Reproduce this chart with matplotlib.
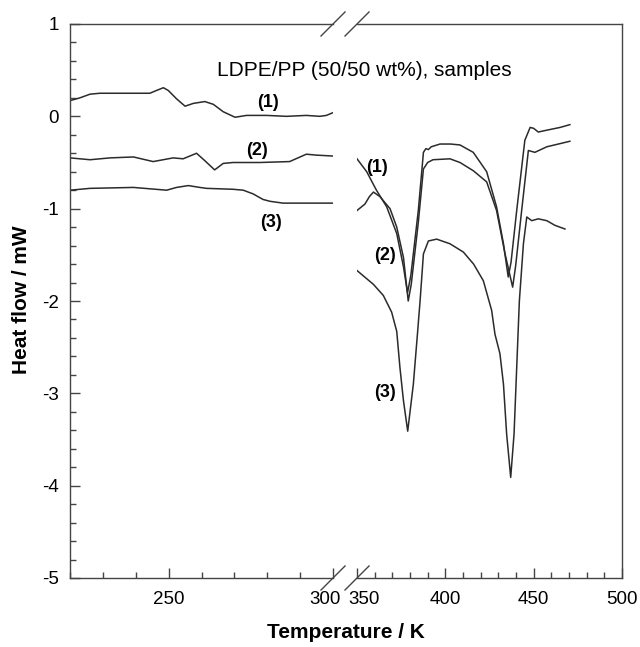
import matplotlib
matplotlib.use("Agg")
import matplotlib.pyplot as plt
from matplotlib.ticker import MultipleLocator
from matplotlib.transforms import ScaledTranslation
from matplotlib.lines import Line2D

plt.rcParams['font.family'] = ['Liberation Sans', 'DejaVu Sans']
plt.rcParams['axes.unicode_minus'] = False

# ---- data: low-temperature segment (220-300 K) ----
t1_low = [220, 223, 226.1, 229.1, 244.3, 246.3, 248.4, 249.9, 252.4, 255, 257.5, 261, 263.6,
          266.6, 270.2, 273.7, 279.8, 285.9, 291.9, 296, 298, 300]
h1_low = [0.17, 0.20, 0.24, 0.25, 0.25, 0.28, 0.31, 0.28, 0.19, 0.11, 0.14, 0.16, 0.13,
          0.05, -0.01, 0.01, 0.01, 0.0, 0.01, 0.0, 0.01, 0.04]
t2_low = [220, 226.1, 232.2, 239.3, 245.3, 251.4, 254.4, 258.5, 261, 264, 266.6, 269.6,
          277.7, 286.8, 291.9, 294.9, 300]
h2_low = [-0.45, -0.47, -0.45, -0.44, -0.49, -0.45, -0.46, -0.40, -0.48, -0.58, -0.51, -0.50,
          -0.50, -0.49, -0.41, -0.42, -0.43]
t3_low = [220, 226.1, 239.3, 249.4, 252.4, 256, 259.5, 261.5, 269.6, 272.7, 275.7, 278.7,
          280.8, 284.8, 300]
h3_low = [-0.80, -0.78, -0.77, -0.80, -0.77, -0.75, -0.77, -0.78, -0.79, -0.80, -0.84, -0.90,
          -0.92, -0.94, -0.94]

# ---- data: high-temperature segment (350-500 K) ----
t1_high = [350, 355.5, 361, 366.8, 372.5, 376.3, 378.6, 380.5, 384.7, 387.6, 389, 390.4, 392,
           397, 403, 408.3, 415.8, 423.4, 429, 432.9, 435.6, 437.2, 440.4, 445, 448, 450,
           452.6, 457.4, 465, 470.5]
h1_high = [-0.46, -0.60, -0.80, -0.98, -1.27, -1.63, -1.91, -1.72, -1.02, -0.39, -0.35, -0.36,
           -0.33, -0.30, -0.30, -0.31, -0.39, -0.60, -0.98, -1.38, -1.74, -1.58, -1.02, -0.26,
           -0.12, -0.13, -0.17, -0.15, -0.12, -0.09]
t2_high = [350, 354.5, 357, 359.3, 363, 368.7, 372.5, 376.3, 379, 380.7, 384.7, 387.6, 390,
           393, 402.6, 408.3, 415.9, 423.4, 429, 433.8, 438.1, 439.8, 443.2, 447, 450.7,
           457.4, 470.5]
h2_high = [-1.02, -0.95, -0.87, -0.82, -0.87, -1.00, -1.20, -1.53, -2.00, -1.82, -1.15, -0.57,
           -0.50, -0.47, -0.46, -0.50, -0.59, -0.71, -1.02, -1.49, -1.85, -1.62, -1.02, -0.37,
           -0.39, -0.33, -0.27]
t3_high = [350, 359.3, 364.9, 369.6, 372.5, 374.3, 376.3, 378.7, 381.9, 384.2, 385.7, 387.6,
           390.4, 395.1, 402.6, 410.2, 416, 421.5, 426.2, 428.1, 430.9, 432.9, 434.7, 437,
           438.9, 440.4, 441.9, 444.2, 446.1, 448.9, 452.6, 457.4, 462, 467.7]
h3_high = [-1.67, -1.82, -1.94, -2.12, -2.33, -2.72, -3.08, -3.41, -2.90, -2.36, -2.00, -1.49,
           -1.35, -1.33, -1.38, -1.47, -1.60, -1.78, -2.10, -2.36, -2.57, -2.90, -3.44, -3.91,
           -3.44, -2.72, -2.00, -1.38, -1.09, -1.13, -1.11, -1.13, -1.18, -1.22]

low_ticks = [250, 300]
high_ticks = [350, 400, 450, 500]
y_ticks = [1, 0, -1, -2, -3, -4, -5]
sample_labels = ['(1)', '(2)', '(3)']
low_label_pos = [(280.2, 0.15), (276.8, -0.37), (281, -1.15)]
high_label_pos = [(361.1, -0.55), (365.8, -1.51), (366.1, -2.99)]

W, H = 640, 647
fig = plt.figure(figsize=(W / 100, H / 100), dpi=100)

ybot, ytop = 578, 24
xl0, xl1, xr0, xr1 = 70, 333, 357, 622
ax1 = fig.add_axes([xl0 / W, 1 - ybot / H, (xl1 - xl0) / W, (ybot - ytop) / H])
ax2 = fig.add_axes([xr0 / W, 1 - ybot / H, (xr1 - xr0) / W, (ybot - ytop) / H])

line_c = '#2b2b2b'
spine_c = '#444444'
lw = 1.1

for t, h in [(t1_low, h1_low), (t2_low, h2_low), (t3_low, h3_low)]:
    ax1.plot(t, h, color=line_c, lw=lw)
for t, h in [(t1_high, h1_high), (t2_high, h2_high), (t3_high, h3_high)]:
    ax2.plot(t, h, color=line_c, lw=lw)

ax1.set_xlim(220, 300)
ax2.set_xlim(350, 500)
for ax in (ax1, ax2):
    ax.set_ylim(-5, 1)
    for s in ax.spines.values():
        s.set_color(spine_c)
        s.set_linewidth(1.0)
    ax.tick_params(which='both', direction='in', colors=spine_c, labelcolor='black',
                   labelsize=13.5, width=1.0)
    ax.tick_params(which='major', length=7, pad=9)
    ax.tick_params(which='minor', length=4)
    ax.xaxis.set_minor_locator(MultipleLocator(10))

ax1.spines['right'].set_visible(False)
ax2.spines['left'].set_visible(False)
ax1.set_xticks(low_ticks)
ax2.set_xticks(high_ticks)
ax1.set_yticks(y_ticks)
ax1.yaxis.set_minor_locator(MultipleLocator(0.2))
ax1.tick_params(axis='y', pad=8)
ax2.tick_params(axis='y', which='both', left=False, right=False, labelleft=False)

# nudge the 300 / 350 labels apart
fig.canvas.draw()
for lab in ax1.get_xticklabels():
    if lab.get_text() == '300':
        lab.set_transform(lab.get_transform() + ScaledTranslation(-6 / 72, 0, fig.dpi_scale_trans))
for lab in ax2.get_xticklabels():
    if lab.get_text() == '350':
        lab.set_transform(lab.get_transform() + ScaledTranslation(5 / 72, 0, fig.dpi_scale_trans))

for (x, y), s in zip(low_label_pos, sample_labels):
    ax1.text(x, y, s, fontsize=13, fontweight='bold', ha='center', va='center')
for (x, y), s in zip(high_label_pos, sample_labels):
    ax2.text(x, y, s, fontsize=13, fontweight='bold', ha='center', va='center')

fig.text(217 / W, 1 - 70 / H, 'LDPE/PP (50/50 wt%), samples', fontsize=15,
         ha='left', va='center')

fig.text((xl0 + xr1) / 2 / W, 1 - 633 / H, 'Temperature / K', fontsize=15,
         fontweight='bold', ha='center', va='center')
fig.text(22 / W, 1 - 300 / H, 'Heat flow / mW', fontsize=15, fontweight='bold',
         rotation=90, ha='center', va='center')

# break marks
for yc in (ytop, ybot):
    for xc in (xl1, xr0):
        fig.add_artist(Line2D([(xc - 12) / W, (xc + 12) / W],
                              [1 - (yc + 12) / H, 1 - (yc - 12) / H],
                              color=spine_c, lw=1.0, transform=fig.transFigure))

fig.savefig('out.png', dpi=100)
